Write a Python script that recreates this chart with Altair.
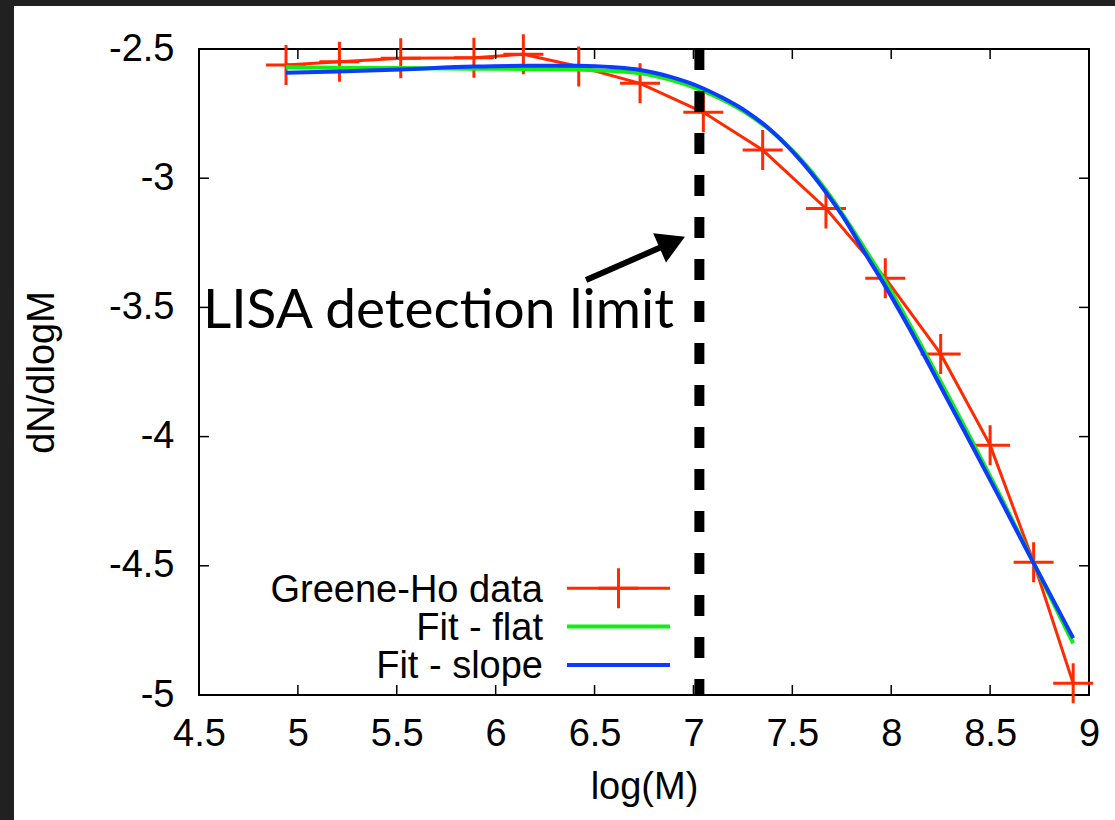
import altair as alt
import pandas as pd

# ---- data ----
gh_x = [4.94, 5.21, 5.52, 5.89, 6.14, 6.42, 6.73, 7.05, 7.35, 7.67, 7.97, 8.25, 8.50, 8.72, 8.92]
gh_y = [-2.562, -2.549, -2.536, -2.534, -2.520, -2.568, -2.633, -2.745, -2.891, -3.117,
        -3.387, -3.680, -4.033, -4.486, -4.955]

flat_x = [4.94, 5.20, 5.52, 5.89, 6.14, 6.33, 6.50, 6.73, 6.88, 7.03, 7.15, 7.27, 7.42,
          7.57, 7.68, 7.87, 7.97, 8.155, 8.28, 8.39, 8.555, 8.72, 8.92]
flat_y = [-2.571, -2.573, -2.574, -2.576, -2.577, -2.578, -2.582, -2.594, -2.618, -2.656,
          -2.697, -2.749, -2.835, -2.950, -3.057, -3.278, -3.400, -3.652, -3.830, -3.990,
          -4.235, -4.490, -4.800]

slope_x = [4.94, 5.20, 5.52, 5.89, 6.14, 6.42, 6.60, 6.73, 6.88, 7.03, 7.15, 7.27, 7.40,
           7.505, 7.59, 7.673, 7.77, 7.858, 7.96, 8.145, 8.28, 8.381, 8.55, 8.718, 8.92]
slope_y = [-2.592, -2.587, -2.579, -2.568, -2.565, -2.565, -2.571, -2.581, -2.607, -2.646,
           -2.690, -2.743, -2.820, -2.900, -2.975, -3.058, -3.165, -3.278, -3.405, -3.655,
           -3.850, -3.995, -4.240, -4.487, -4.780]

lisa_x = [7.03]
arrow_tail = [6.457, -3.394]
arrow_head = [6.893, -3.248]
annot_text = "LISA detection limit"
annot_pos = [4.52, -3.580]

x_ticks = [4.5, 5, 5.5, 6, 6.5, 7, 7.5, 8, 8.5, 9]
y_ticks = [-5, -4.5, -4, -3.5, -3, -2.5]

legend_labels = ["Greene-Ho data", "Fit - flat", "Fit - slope"]
RED, GREEN, BLUE = "#ff2a00", "#11ee11", "#0a3cff"
legend_colors = [RED, GREEN, BLUE]

# ---- layout ----
W, H = 890, 646
PAD_L, PAD_T, PAD_R, PAD_B = 199, 49, 26, 125
FONT = "Liberation Sans"
FS = 38

xs = alt.Scale(domain=[4.5, 9], nice=False, zero=False)
ys = alt.Scale(domain=[-5, -2.5], nice=False, zero=False)

x_axis = alt.Axis(title="log(M)", values=x_ticks, ticks=False, domain=False, grid=False,
                  labelFont=FONT, labelFontSize=FS, titleFont=FONT, titleFontSize=FS,
                  titleFontWeight="normal", labelColor="black", titleColor="black",
                  labelPadding=20, titlePadding=15, labelFlush=False, labelOverlap=False,
                  labelExpr="'' + datum.value", zindex=1)
y_axis = alt.Axis(title="dN/dlogM", values=y_ticks, ticks=False, domain=False, grid=False,
                  labelFont=FONT, labelFontSize=FS, titleFont=FONT, titleFontSize=FS,
                  titleFontWeight="normal", labelColor="black", titleColor="black",
                  labelPadding=25, titlePadding=47, labelFlush=False, labelOverlap=False,
                  labelExpr="'' + datum.value", zindex=1)


def X(field):
    return alt.X(field, type="quantitative", scale=xs, axis=x_axis)


def Y(field):
    return alt.Y(field, type="quantitative", scale=ys, axis=y_axis)


gh = pd.DataFrame({"x": gh_x, "y": gh_y})
flat = pd.DataFrame({"x": flat_x, "y": flat_y})
slope = pd.DataFrame({"x": slope_x, "y": slope_y})
one = pd.DataFrame({"a": [0]})

red_line = alt.Chart(gh).mark_line(color=RED, strokeWidth=3).encode(x=X("x"), y=Y("y"))
CROSS = "M-1,0H1M0,-1V1"
red_pts = alt.Chart(gh).mark_point(shape=CROSS, size=1600, strokeWidth=3, color=RED,
                                   filled=False, opacity=1).encode(x=X("x"), y=Y("y"))
green_line = alt.Chart(flat).mark_line(color=GREEN, strokeWidth=4, interpolate="monotone").encode(
    x=X("x"), y=Y("y"))
blue_line = alt.Chart(slope).mark_line(color=BLUE, strokeWidth=4, interpolate="monotone").encode(
    x=X("x"), y=Y("y"))

lisa = alt.Chart(pd.DataFrame({"x": lisa_x, "y0": [-2.5], "y1": [-5]})).mark_rule(
    color="black", strokeWidth=10, strokeDash=[21, 21]).encode(
    x=X("x"), y=Y("y0"), y2="y1:Q")

arrow_df = pd.DataFrame({"x": [arrow_tail[0]], "y": [arrow_tail[1]],
                         "x2": [arrow_head[0]], "y2": [arrow_head[1]]})
shaft = alt.Chart(arrow_df).mark_rule(color="black", strokeWidth=6).encode(
    x=X("x"), y=Y("y"), x2="x2:Q", y2="y2:Q")
head = alt.Chart(arrow_df).mark_point(shape="triangle-right", filled=True, size=1024,
                                      angle=336.4, color="black", opacity=1).encode(
    x=X("x2"), y=Y("y2"))

annot = alt.Chart(pd.DataFrame({"x": [annot_pos[0]], "y": [annot_pos[1]], "t": [annot_text]})).mark_text(
    font="Lato", fontSize=55, align="left", baseline="alphabetic", color="black").encode(
    x=X("x"), y=Y("y"), text="t:N")

# inward ticks on all four sides
xt = pd.DataFrame({"x": x_ticks})
yt = pd.DataFrame({"y": y_ticks})
TL = 10
tick_top = alt.Chart(xt).mark_rule(color="black", strokeWidth=1.5).encode(
    x=X("x"), y=alt.value(0), y2=alt.value(TL))
tick_bot = alt.Chart(xt).mark_rule(color="black", strokeWidth=1.5).encode(
    x=X("x"), y=alt.value(H - TL), y2=alt.value(H))
tick_left = alt.Chart(yt).mark_rule(color="black", strokeWidth=1.5).encode(
    y=Y("y"), x=alt.value(0), x2=alt.value(TL))
tick_right = alt.Chart(yt).mark_rule(color="black", strokeWidth=1.5).encode(
    y=Y("y"), x=alt.value(W - TL), x2=alt.value(W))

# legend drawn by hand (labels left, samples right)
leg_layers = []
LEG_TEXT_X = 543 - PAD_L
LEG_LINE_X0, LEG_LINE_X1 = 567 - PAD_L, 670 - PAD_L
LEG_BASE0 = 601.5 - PAD_T
LEG_LINE0 = 588.3 - PAD_T
LEG_STEP = 38.3
for i, (lab, col) in enumerate(zip(legend_labels, legend_colors)):
    leg_layers.append(alt.Chart(pd.DataFrame({"t": [lab]})).mark_text(
        font=FONT, fontSize=FS, align="right", baseline="alphabetic", color="black").encode(
        text="t:N", x=alt.value(LEG_TEXT_X), y=alt.value(LEG_BASE0 + i * LEG_STEP)))
    leg_layers.append(alt.Chart(one).mark_rule(color=col, strokeWidth=3 if i == 0 else 4).encode(
        x=alt.value(LEG_LINE_X0), x2=alt.value(LEG_LINE_X1),
        y=alt.value(LEG_LINE0 + i * LEG_STEP)))
    if i == 0:
        leg_layers.append(alt.Chart(one).mark_point(shape=CROSS, size=1600, strokeWidth=3,
                                                    color=col, filled=False, opacity=1).encode(
            x=alt.value((LEG_LINE_X0 + LEG_LINE_X1) / 2), y=alt.value(LEG_LINE0)))

# dark frame strips at top and left of the picture
DARK = "#212121"
strip_left = alt.Chart(one).mark_rect(color=DARK).encode(
    x=alt.value(-PAD_L), x2=alt.value(14 - PAD_L), y=alt.value(-PAD_T), y2=alt.value(H + PAD_B))
strip_top = alt.Chart(one).mark_rect(color=DARK).encode(
    x=alt.value(-PAD_L), x2=alt.value(W + PAD_R), y=alt.value(-PAD_T), y2=alt.value(6 - PAD_T))

chart = alt.layer(
    red_line, strip_left, strip_top, red_pts, green_line, blue_line, lisa, shaft, head, annot,
    tick_top, tick_bot, tick_left, tick_right, *leg_layers
).properties(
    width=W, height=H,
    autosize=alt.AutoSizeParams(type="none"),
    padding={"left": PAD_L, "top": PAD_T, "right": PAD_R, "bottom": PAD_B},
    background="white",
).configure_view(stroke="black", strokeWidth=2)

chart.save("out.html", embed_options={"renderer": "svg", "actions": False})
